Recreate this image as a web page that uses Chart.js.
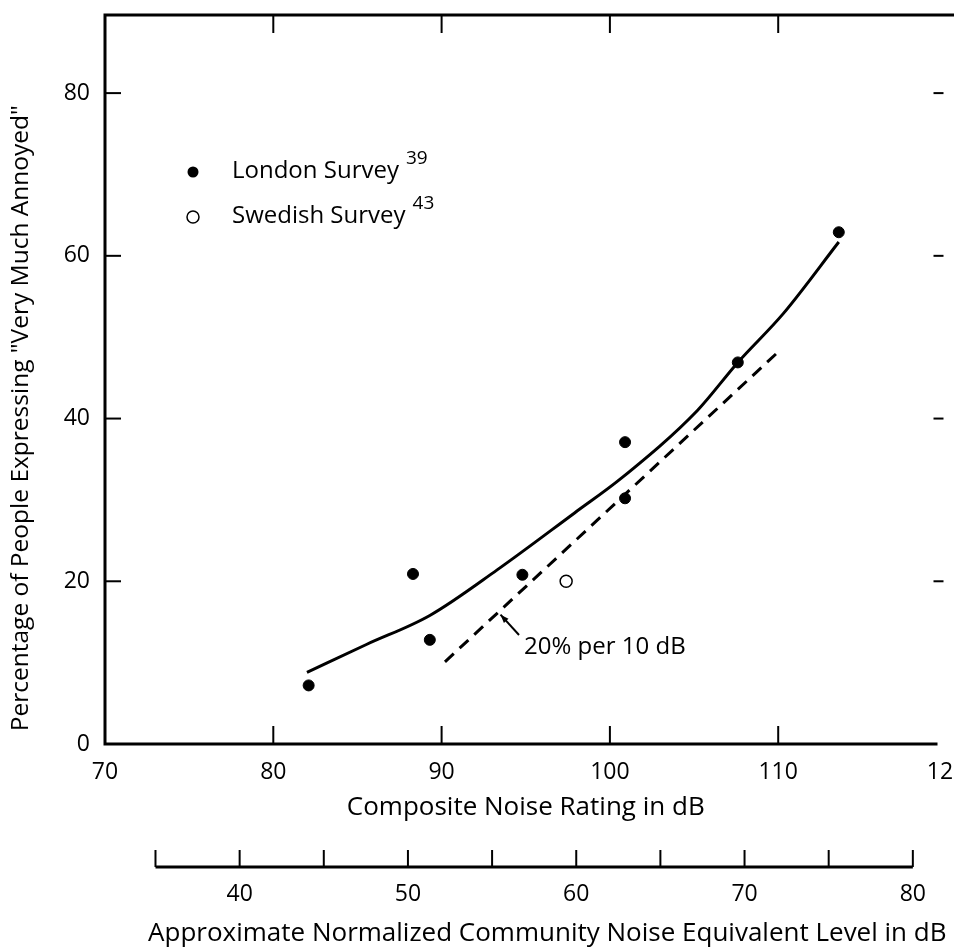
<!DOCTYPE html>
<html>
<head>
<meta charset="utf-8">
<script src="https://cdn.jsdelivr.net/npm/chart.js@4.4.1/dist/chart.umd.min.js"></script>
<style>
  html, body { margin: 0; padding: 0; background: #fff; }
  #wrap { width: 954px; height: 951px; position: relative; }
</style>
</head>
<body>
<div id="wrap"><canvas id="annoyanceChart"></canvas></div>
<script>
// axis ticks
const cnrTicks = [70, 80, 90, 100, 110, 120];
const pctTicks = [0, 20, 40, 60, 80];
const ncnelTicks = [40, 50, 60, 70, 80];
const ncnelMarks = [35, 40, 45, 50, 55, 60, 65, 70, 75, 80];
const ncnelOffset = 38; // CNR - NCNEL, approx.

// London survey (filled dots)
const londonCnr = [82.1, 88.3, 89.3, 94.8, 100.9, 100.9, 107.6, 113.6];
const londonPct = [7.2, 20.9, 12.8, 20.8, 37.1, 30.2, 46.9, 62.9];

// Swedish survey (open circle)
const swedishCnr = [97.4];
const swedishPct = [20.0];

// fitted curve (solid)
const curveCnr = [82.0, 85.5, 89.3, 93.3, 97.9, 100.7, 105.2, 107.6, 110.3, 113.6];
const curvePct = [8.8, 12.2, 15.8, 21.4, 28.4, 32.7, 41.0, 46.9, 52.9, 61.7];

// 20% per 10 dB line (dashed)
const slopeCnr = [90.2, 109.9];
const slopePct = [10.1, 48.0];

function toPoints(xs, ys) {
    return xs.map(function (v, i) { return { x: v, y: ys[i] }; });
}

Chart.defaults.font.family = "'Open Sans', 'DejaVu Sans', sans-serif";
Chart.defaults.color = '#000';

function line(ctx, x1, y1, x2, y2) {
    ctx.beginPath();
    ctx.moveTo(x1, y1);
    ctx.lineTo(x2, y2);
    ctx.stroke();
}

const paperPlugin = {
    id: 'paper',
    afterDraw: function (chart) {
        const ctx = chart.ctx;
        const area = chart.chartArea;
        const xs = chart.scales.x, ys = chart.scales.y, x2 = chart.scales.x2;
        ctx.save();
        ctx.strokeStyle = '#000';
        ctx.fillStyle = '#000';

        // frame (right side is cut off in the original)
        ctx.lineWidth = 3;
        ctx.beginPath();
        ctx.moveTo(chart.width, area.top);
        ctx.lineTo(area.left, area.top);
        ctx.lineTo(area.left, area.bottom);
        ctx.lineTo(area.right - 9, area.bottom);
        ctx.stroke();

        // inward ticks
        ctx.lineWidth = 2;
        cnrTicks.slice(1, -1).forEach(function (v) {
            const px = xs.getPixelForValue(v);
            line(ctx, px, area.bottom, px, area.bottom - 18);
            line(ctx, px, area.top, px, area.top + 18);
        });
        pctTicks.slice(1).forEach(function (v) {
            const py = ys.getPixelForValue(v);
            line(ctx, area.left, py, area.left + 16, py);
            line(ctx, area.right - 13, py, area.right - 3, py);
        });

        // secondary scale (NCNEL)
        const ay = x2.top - 2;
        ctx.lineWidth = 3;
        line(ctx, x2.getPixelForValue(ncnelMarks[0]), ay, x2.getPixelForValue(ncnelMarks[ncnelMarks.length - 1]), ay);
        ctx.lineWidth = 2;
        ncnelMarks.forEach(function (v) {
            const px = x2.getPixelForValue(v);
            line(ctx, px, ay, px, ay - 17);
        });

        // annotation "20% per 10 dB"
        const tx = xs.getPixelForValue(94.9), ty = ys.getPixelForValue(11.9);
        ctx.font = "24px 'Open Sans'";
        ctx.textAlign = 'left';
        ctx.textBaseline = 'middle';
        ctx.fillText('20% per 10 dB', tx, ty);
        const ax1 = xs.getPixelForValue(94.6), ay1 = ys.getPixelForValue(13.4);
        const ax2 = xs.getPixelForValue(93.5), ay2 = ys.getPixelForValue(15.9);
        ctx.lineWidth = 2;
        line(ctx, ax1, ay1, ax2, ay2);
        const ang = Math.atan2(ay2 - ay1, ax2 - ax1);
        ctx.beginPath();
        ctx.moveTo(ax2, ay2);
        ctx.lineTo(ax2 - 9 * Math.cos(ang - 0.35), ay2 - 9 * Math.sin(ang - 0.35));
        ctx.lineTo(ax2 - 9 * Math.cos(ang + 0.35), ay2 - 9 * Math.sin(ang + 0.35));
        ctx.closePath();
        ctx.fill();

        // legend
        const lx = area.left + 88, ly1 = area.top + 157, ly2 = area.top + 202;
        ctx.beginPath();
        ctx.arc(lx, ly1, 5.5, 0, Math.PI * 2);
        ctx.fill();
        ctx.lineWidth = 1.5;
        ctx.beginPath();
        ctx.arc(lx, ly2, 6, 0, Math.PI * 2);
        ctx.stroke();
        ctx.font = "24px 'Open Sans'";
        ctx.fillText('London Survey', lx + 39, ly1 - 1);
        ctx.fillText('Swedish Survey', lx + 39, ly2 - 1);
        const w1 = ctx.measureText('London Survey').width;
        const w2 = ctx.measureText('Swedish Survey').width;
        ctx.font = "19px 'Open Sans'";
        ctx.fillText('39', lx + 39 + w1 + 7, ly1 - 13);
        ctx.fillText('43', lx + 39 + w2 + 7, ly2 - 13);

        ctx.restore();
    }
};

const ctx = document.getElementById('annoyanceChart').getContext('2d');
const annoyanceChart = new Chart(ctx, {
    type: 'scatter',
    data: {
        datasets: [
            {
                label: 'London Survey',
                data: toPoints(londonCnr, londonPct),
                backgroundColor: '#000',
                borderColor: '#000',
                pointRadius: 5.5,
                pointHoverRadius: 5.5,
                showLine: false
            },
            {
                label: 'Swedish Survey',
                data: toPoints(swedishCnr, swedishPct),
                backgroundColor: '#fff',
                borderColor: '#000',
                borderWidth: 1.5,
                pointRadius: 6,
                showLine: false
            },
            {
                label: 'Fit',
                data: toPoints(curveCnr, curvePct),
                showLine: true,
                borderColor: '#000',
                borderWidth: 3,
                pointRadius: 0,
                tension: 0.4,
                cubicInterpolationMode: 'monotone'
            },
            {
                label: '20% per 10 dB',
                data: toPoints(slopeCnr, slopePct),
                showLine: true,
                borderColor: '#000',
                borderWidth: 3,
                borderDash: [12, 8],
                pointRadius: 0
            }
        ]
    },
    options: {
        responsive: true,
        maintainAspectRatio: false,
        animation: false,
        layout: { padding: { top: 15, right: 3, left: 0, bottom: 0 } },
        plugins: {
            legend: { display: false },
            tooltip: { enabled: false }
        },
        scales: {
            x: {
                type: 'linear',
                position: 'bottom',
                min: 70,
                max: 120,
                afterBuildTicks: function (scale) {
                    scale.ticks = cnrTicks.map(function (v) { return { value: v }; });
                },
                afterFit: function (scale) {
                    scale.height = 125;
                    scale.paddingRight = 0;
                },
                grid: { display: false, drawTicks: false },
                border: { display: false },
                ticks: { font: { size: 23 }, padding: 15, maxRotation: 0 },
                title: {
                    display: true,
                    text: 'Composite Noise Rating in dB',
                    font: { size: 26 },
                    padding: { top: 4, bottom: 46 }
                }
            },
            x2: {
                type: 'linear',
                position: 'bottom',
                min: 70 - ncnelOffset,
                max: 120 - ncnelOffset,
                afterBuildTicks: function (scale) {
                    scale.ticks = ncnelTicks.map(function (v) { return { value: v }; });
                },
                afterFit: function (scale) {
                    scale.height = 82;
                    scale.paddingRight = 0;
                    scale.paddingLeft = 0;
                },
                grid: { display: false, drawTicks: false },
                border: { display: false },
                ticks: { font: { size: 23 }, padding: 12, maxRotation: 0 },
                title: {
                    display: true,
                    text: 'Approximate Normalized Community Noise Equivalent Level in dB',
                    align: 'end',
                    font: { size: 26 },
                    padding: { top: 2, bottom: 2 }
                }
            },
            y: {
                type: 'linear',
                min: 0,
                max: 89.6,
                afterBuildTicks: function (scale) {
                    scale.ticks = pctTicks.map(function (v) { return { value: v }; });
                },
                afterFit: function (scale) {
                    scale.width = 105;
                    scale.paddingTop = 0;
                    scale.paddingBottom = 0;
                },
                grid: { display: false, drawTicks: false },
                border: { display: false },
                ticks: { font: { size: 23 }, padding: 15 },
                title: {
                    display: true,
                    text: '  Percentage of People Expressing "Very Much Annoyed"',
                    align: 'start',
                    font: { size: 24.5 },
                    padding: { top: 6, bottom: 4 }
                }
            }
        }
    },
    plugins: [paperPlugin]
});
</script>
</body>
</html>
